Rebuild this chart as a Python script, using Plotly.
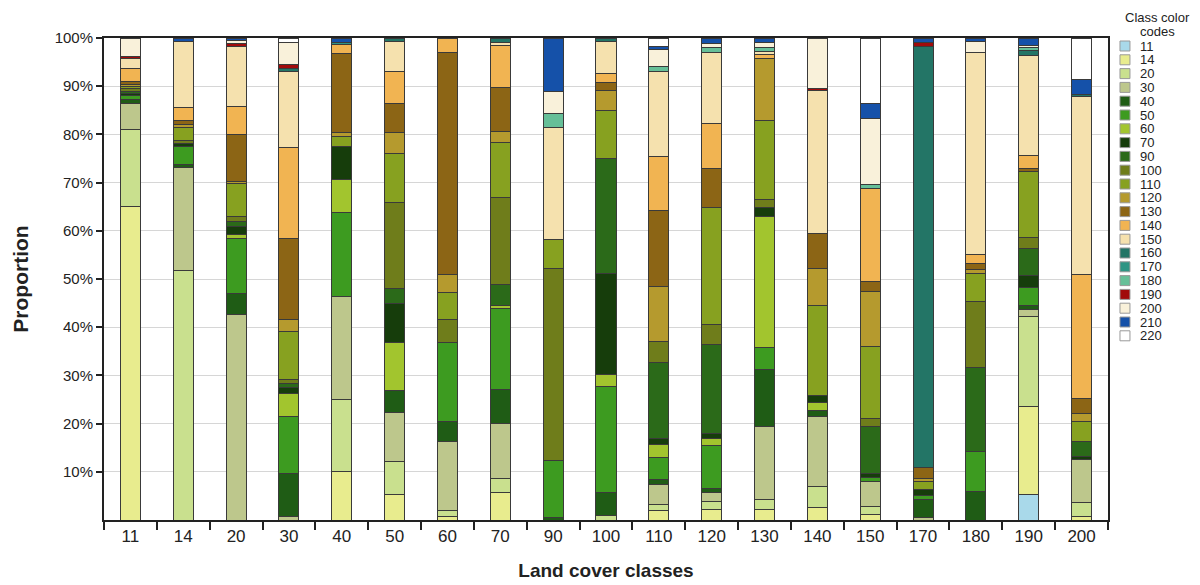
import plotly.graph_objects as go

# land cover classes on the x axis
bars = ["11", "14", "20", "30", "40", "50", "60", "70", "90", "100",
        "110", "120", "130", "140", "150", "170", "180", "190", "200"]

# class codes stacked inside each bar (bottom to top)
codes = ["11", "14", "20", "30", "40", "50", "60", "70", "90", "100", "110",
         "120", "130", "140", "150", "160", "170", "180", "190", "200", "210", "220"]

colors = ["#a9d9ea", "#e8ec8e", "#c9e08e", "#bdc78c", "#1f5c15", "#3d9b20",
          "#a2c52e", "#163d0b", "#2b6a19", "#6f7d1b", "#87a120", "#b59a2e",
          "#8c6515", "#f1b452", "#f5e1ae", "#237566", "#2e9584", "#66bf98",
          "#a10b0b", "#f9f1da", "#1551a9", "#ffffff"]

# proportion (%) of each class code, one list per bar, in the order of `codes`
bar_11 = [0, 65.1, 16.0, 5.3, 0.8, 0.9, 0, 0.4, 0.5, 0.5, 0.4, 0.4, 0.6, 2.8, 2.1, 0, 0, 0, 0.4, 3.8, 0, 0]
bar_14 = [0, 0, 51.7, 21.5, 0.5, 3.8, 0, 0.7, 0, 0.5, 2.8, 0.5, 0.9, 2.6, 13.7, 0, 0, 0, 0, 0, 0.8, 0]
bar_20 = [0, 0, 0, 42.6, 4.4, 11.5, 0.7, 1.7, 1.0, 1.0, 6.9, 0.5, 9.7, 5.7, 12.5, 0, 0, 0, 0.6, 0.7, 0.5, 0]
bar_30 = [0, 0, 0, 0.8, 8.9, 11.8, 4.7, 1.2, 1.0, 0.7, 10.0, 2.6, 16.8, 18.7, 15.9, 0.5, 0, 0, 1.0, 4.4, 0, 1.0]
bar_40 = [0, 10.0, 15.0, 21.4, 0, 17.3, 7.0, 6.7, 0, 0, 2.2, 0.8, 16.3, 1.9, 0, 0, 0.4, 0, 0, 0, 1.0, 0]
bar_50 = [0, 5.2, 6.9, 10.2, 4.5, 0, 10.0, 8.2, 3.1, 17.8, 10.1, 4.3, 6.1, 6.6, 6.2, 0.8, 0, 0, 0, 0, 0, 0]
bar_60 = [0, 0.8, 1.2, 14.3, 4.1, 16.5, 0, 0, 0, 4.8, 5.4, 3.8, 46.0, 3.1, 0, 0, 0, 0, 0, 0, 0, 0]
bar_70 = [0, 5.7, 2.9, 11.5, 6.9, 16.8, 0.7, 0, 4.3, 18.2, 11.3, 2.4, 9.0, 8.7, 0.6, 1.0, 0, 0, 0, 0, 0, 0]
bar_90 = [0, 0, 0, 0, 0.6, 11.8, 0, 0, 0, 39.8, 6.0, 0, 0, 0, 23.2, 0, 0, 3.0, 0, 4.4, 11.2, 0]
bar_100 = [0, 0, 1.0, 0, 4.8, 21.8, 2.6, 20.9, 23.9, 0, 10.0, 4.1, 1.7, 1.9, 6.5, 0.8, 0, 0, 0, 0, 0, 0]
bar_110 = [0, 2.0, 1.2, 4.1, 1.0, 4.6, 2.8, 1.2, 15.7, 4.4, 0, 11.5, 15.8, 11.2, 17.5, 0, 0, 1.1, 0, 3.5, 0.7, 1.7]
bar_120 = [0, 2.1, 1.7, 1.9, 0.9, 8.8, 1.6, 1.0, 18.5, 4.0, 24.3, 0, 8.1, 9.3, 14.7, 0, 0, 1.2, 0, 0.7, 1.2, 0]
bar_130 = [0, 2.1, 2.1, 15.1, 12.0, 4.4, 27.3, 1.9, 0, 1.6, 16.3, 13.0, 0, 0.8, 0.7, 0, 0, 0.7, 0, 1.0, 1.0, 0]
bar_140 = [0, 2.6, 4.3, 14.5, 1.4, 0, 1.5, 1.6, 0, 0, 18.7, 7.6, 7.3, 0, 29.7, 0, 0, 0, 0.4, 10.4, 0, 0]
bar_150 = [0, 1.2, 1.7, 5.0, 0, 1.0, 0, 0.7, 9.7, 1.7, 14.9, 11.5, 2.1, 19.2, 0, 0, 0, 0.9, 0, 13.6, 3.2, 13.6]
bar_170 = [0, 0, 0, 0.6, 3.6, 0.9, 0, 1.3, 0, 0, 1.6, 0.7, 2.1, 0, 0, 87.5, 0, 0, 0.7, 0, 1.0, 0]
bar_180 = [0, 0, 0, 0, 5.9, 8.3, 0, 0, 17.5, 13.6, 5.9, 0.7, 1.4, 1.7, 42.0, 0, 0, 0, 0, 2.2, 0.8, 0]
bar_190 = [5.2, 18.3, 18.7, 1.5, 0.9, 3.6, 0, 2.5, 5.7, 2.3, 13.6, 0, 0.7, 2.6, 20.8, 1.0, 0, 0.6, 0, 0.5, 1.5, 0]
bar_200 = [0, 0.8, 2.8, 8.9, 0, 0, 0, 0.6, 3.1, 0, 4.3, 1.7, 3.1, 25.7, 36.9, 0.4, 0, 0, 0, 0, 3.0, 8.7]

y_ticks = [10, 20, 30, 40, 50, 60, 70, 80, 90, 100]
y_labels = ["10%", "20%", "30%", "40%", "50%", "60%", "70%", "80%", "90%", "100%"]

table = [bar_11, bar_14, bar_20, bar_30, bar_40, bar_50, bar_60, bar_70, bar_90, bar_100,
         bar_110, bar_120, bar_130, bar_140, bar_150, bar_170, bar_180, bar_190, bar_200]

font = "Arial, Liberation Sans, sans-serif"

fig = go.Figure()
for i, code in enumerate(codes):
    fig.add_trace(go.Bar(
        x=bars, y=[row[i] for row in table], name=code,
        marker=dict(color=colors[i], line=dict(color="#3a3a3a", width=1)),
        width=0.38, showlegend=False))

# the page body adds an 8px offset, so margins are shifted by that much
fig.update_layout(
    barmode="stack", width=1200, height=585,
    margin=dict(l=94, r=100, t=30, b=73),
    paper_bgcolor="white", plot_bgcolor="white",
    font=dict(family=font, color="#222222"),
)
fig.update_xaxes(
    type="category", tickson="boundaries", ticks="outside", ticklen=8,
    tickwidth=2, tickcolor="#222", showline=True, linecolor="#222", linewidth=2,
    mirror=True, tickfont=dict(size=17), showgrid=False,
    title=dict(text="<b>Land cover classes</b>", font=dict(size=19), standoff=18),
)
fig.update_yaxes(
    range=[0, 100], tickvals=y_ticks, ticktext=y_labels, ticks="outside", ticklen=6,
    tickwidth=2, tickcolor="#222", showline=True, linecolor="#222", linewidth=2,
    mirror=True, showgrid=True, gridcolor="#d6d6d6", gridwidth=1,
    tickfont=dict(size=15), zeroline=False,
    title=dict(text="<b>Proportion</b>", font=dict(size=21), standoff=20),
)

# legend drawn by hand so the entries sit as tightly as in the original
# (pixel positions of the reference page, converted to paper coordinates)
def px(x):
    return (x - 102) / 1006

def py(y):
    return (520 - y) / 482

for text, yt in [("Class color", 18), ("codes", 31)]:
    fig.add_annotation(x=px(1158), y=py(yt), xref="paper", yref="paper",
                       text=text, showarrow=False, xanchor="center", yanchor="middle",
                       font=dict(size=13, color="#222"))
for i, code in enumerate(codes):
    yc = 46 + i * 13.8
    fig.add_shape(type="rect", xref="paper", yref="paper",
                  x0=px(1120), x1=px(1130), y0=py(yc + 5), y1=py(yc - 5),
                  fillcolor=colors[i], line=dict(color="#999999", width=1))
    fig.add_annotation(x=px(1138), y=py(yc), xref="paper", yref="paper",
                       text=code, showarrow=False, xanchor="left", yanchor="middle",
                       font=dict(size=13, color="#222"))

fig.write_html("out.html")
